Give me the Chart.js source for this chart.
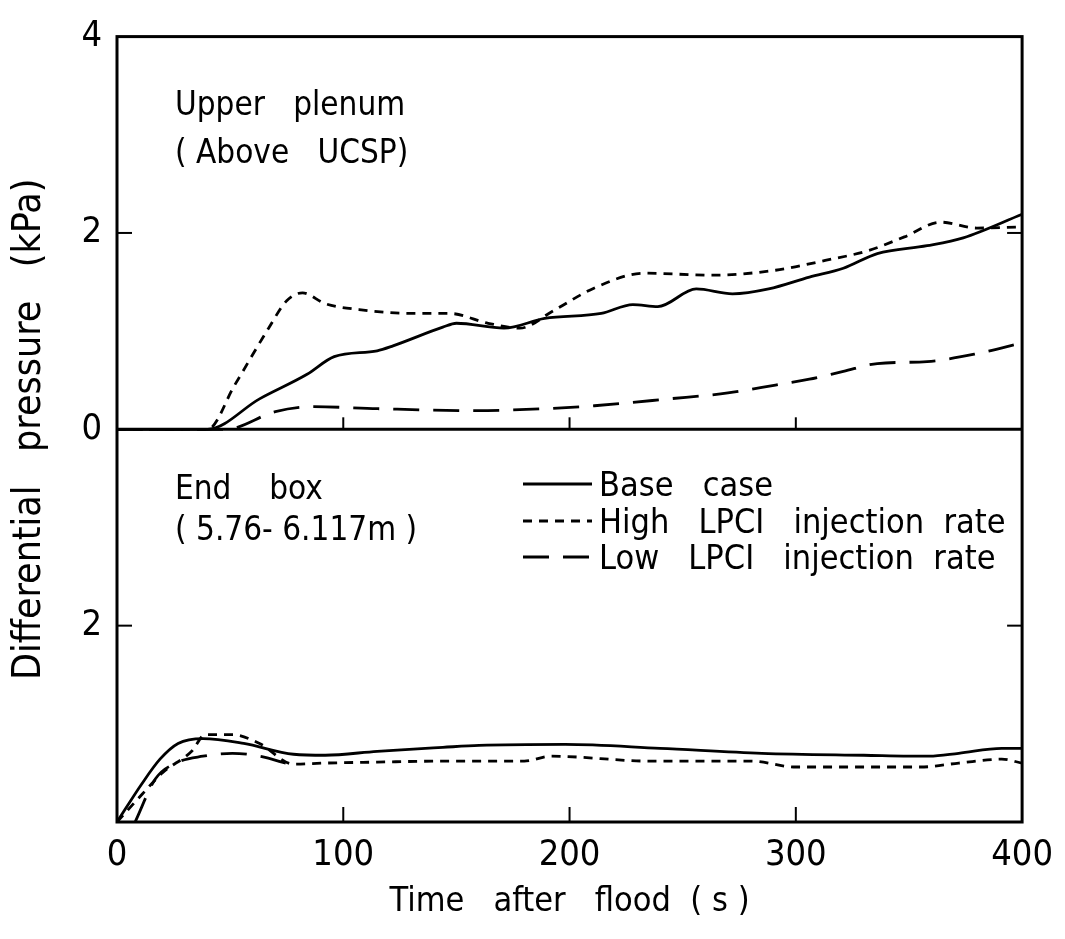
<!DOCTYPE html>
<html>
<head>
<meta charset="utf-8">
<script src="https://cdn.jsdelivr.net/npm/chart.js@4.4.0/dist/chart.umd.min.js"></script>
<style>
  html, body { margin: 0; padding: 0; background: #fff; }
</style>
</head>
<body>
<canvas id="myChart" width="1065" height="939"></canvas>
<script>
// series names (legend)
const seriesNames = ['Base   case', 'High   LPCI   injection  rate', 'Low   LPCI   injection  rate'];

// Upper plenum (above UCSP), kPa
const upperBaseT = [0, 40, 63, 84, 96, 115, 122, 144, 150, 171, 189, 214, 228, 239, 256, 272, 288, 306, 321, 336, 358, 374, 400];
const upperBaseP = [0, 0, 0.31, 0.56, 0.74, 0.80, 0.85, 1.04, 1.08, 1.03, 1.13, 1.18, 1.27, 1.25, 1.43, 1.38, 1.43, 1.55, 1.64, 1.79, 1.87, 1.95, 2.19];

const upperHighT = [0, 40, 52, 67, 75, 82, 92, 107, 130, 147, 164, 178, 193, 211, 233, 263, 291, 313, 332, 348, 364, 380, 400];
const upperHighP = [0, 0, 0.45, 1.03, 1.31, 1.39, 1.28, 1.22, 1.18, 1.18, 1.08, 1.03, 1.21, 1.44, 1.59, 1.57, 1.62, 1.72, 1.82, 1.96, 2.11, 2.05, 2.06];

const upperLowT = [0, 48, 70, 87, 115, 159, 189, 211, 244, 270, 291, 306, 321, 336, 358, 380, 400];
const upperLowP = [0, 0, 0.18, 0.23, 0.21, 0.19, 0.21, 0.24, 0.31, 0.37, 0.45, 0.51, 0.59, 0.67, 0.69, 0.77, 0.88];

// End box (5.76-6.117 m), kPa, plotted downward from the zero line
const endBaseT = [0, 11, 19, 27, 38, 56, 78, 92, 115, 144, 160, 198, 240, 285, 330, 359, 372, 391, 400];
const endBaseP = [4.0, 3.61, 3.36, 3.20, 3.15, 3.20, 3.31, 3.32, 3.28, 3.24, 3.22, 3.21, 3.25, 3.30, 3.32, 3.33, 3.30, 3.25, 3.25];

const endHighT = [0, 11, 20, 33, 39, 51, 63, 78, 92, 115, 144, 180, 192, 236, 280, 300, 355, 372, 391, 400];
const endHighP = [4.0, 3.72, 3.50, 3.28, 3.11, 3.11, 3.20, 3.41, 3.40, 3.39, 3.38, 3.38, 3.33, 3.38, 3.38, 3.44, 3.44, 3.40, 3.36, 3.40];

const endLowT = [8, 17, 26, 38, 51, 63, 76];
const endLowP = [4.0, 3.56, 3.40, 3.33, 3.30, 3.33, 3.41];

// axis ticks
const xTicks = [0, 100, 200, 300, 400];
const yTicks = [4, 2, 0, -2];

const FONT = "'Liberation Sans Narrow', 'DejaVu Sans Condensed', 'Liberation Sans', Arial, sans-serif";

function pts(t, p, sign) {
  return t.map((v, i) => ({ x: v, y: sign * p[i] }));
}

const dashes = [[], [9, 7], [26, 14]];

function ds(label, t, p, sign, k) {
  return {
    label: label,
    data: pts(t, p, sign),
    borderColor: '#000',
    borderWidth: 2.8,
    borderDash: dashes[k],
    pointRadius: 0,
    fill: false,
    cubicInterpolationMode: 'monotone'
  };
}

const paperPlugin = {
  id: 'paper',
  afterDatasetsDraw(chart) {
    const { ctx, chartArea: a, scales } = chart;
    const x = scales.x, y = scales.y;
    const line = (x1, y1, x2, y2) => { ctx.beginPath(); ctx.moveTo(x1, y1); ctx.lineTo(x2, y2); ctx.stroke(); };
    ctx.save();
    ctx.strokeStyle = '#000';
    ctx.lineWidth = 3;
    ctx.strokeRect(a.left, a.top, a.right - a.left, a.bottom - a.top);
    const y0 = y.getPixelForValue(0);
    line(a.left, y0, a.right, y0);

    // inward tick marks
    ctx.lineWidth = 2;
    [2, -2].forEach(v => {
      const py = y.getPixelForValue(v);
      line(a.left, py, a.left + 15, py);
      line(a.right, py, a.right - 15, py);
    });
    [100, 200, 300].forEach(t => {
      const px = x.getPixelForValue(t);
      line(px, a.bottom, px, a.bottom - 15);
      line(px, y0, px, y0 - 12);
    });

    // panel notes
    ctx.fillStyle = '#000';
    ctx.textAlign = 'left';
    ctx.textBaseline = 'alphabetic';
    ctx.font = '33px ' + FONT;
    ctx.fillText('Upper   plenum', 175, 115);
    ctx.fillText('( Above   UCSP)', 175, 163);
    ctx.fillText('End    box', 175, 499);
    ctx.fillText('( 5.76- 6.117m )', 175, 540);

    // legend
    const rows = [484, 521, 557];
    ctx.font = '34px ' + FONT;
    seriesNames.forEach((name, i) => {
      ctx.setLineDash(dashes[i]);
      ctx.lineWidth = 2.8;
      line(523, rows[i], 592, rows[i]);
      ctx.setLineDash([]);
      ctx.fillText(name, 599, rows[i] + 12);
    });
    ctx.restore();
  }
};

new Chart(document.getElementById('myChart'), {
  type: 'line',
  data: {
    datasets: [
      ds(seriesNames[0], upperBaseT, upperBaseP, 1, 0),
      ds(seriesNames[1], upperHighT, upperHighP, 1, 1),
      ds(seriesNames[2], upperLowT, upperLowP, 1, 2),
      ds(seriesNames[0], endBaseT, endBaseP, -1, 0),
      ds(seriesNames[1], endHighT, endHighP, -1, 1),
      ds(seriesNames[2], endLowT, endLowP, -1, 2)
    ]
  },
  options: {
    responsive: false,
    animation: false,
    devicePixelRatio: 1,
    layout: { padding: { top: 28, right: 40, bottom: 0, left: 0 } },
    plugins: {
      legend: { display: false },
      tooltip: { enabled: false }
    },
    scales: {
      x: {
        type: 'linear',
        min: 0,
        max: 400,
        afterFit: (s) => { s.height = 117; },
        afterBuildTicks: (s) => { s.ticks = xTicks.map(v => ({ value: v })); },
        grid: { display: false, drawTicks: false },
        border: { display: false },
        ticks: {
          color: '#000',
          padding: 12,
          font: { size: 36, family: FONT },
          maxRotation: 0
        },
        title: {
          display: true,
          text: 'Time   after   flood  ( s )',
          color: '#000',
          font: { size: 34, family: FONT },
          padding: { top: 0, bottom: 16 }
        }
      },
      y: {
        type: 'linear',
        min: -4,
        max: 4,
        afterFit: (s) => { s.width = 117; },
        afterBuildTicks: (s) => { s.ticks = yTicks.map(v => ({ value: v })); },
        grid: { display: false, drawTicks: false },
        border: { display: false },
        ticks: {
          color: '#000',
          padding: 15,
          font: { size: 36, family: FONT },
          callback: (v) => Math.abs(v)
        },
        title: {
          display: true,
          text: 'Differential   pressure   (kPa)',
          color: '#000',
          font: { size: 39, family: FONT },
          padding: { top: 6, bottom: 0 }
        }
      }
    }
  },
  plugins: [paperPlugin]
});
</script>
</body>
</html>
